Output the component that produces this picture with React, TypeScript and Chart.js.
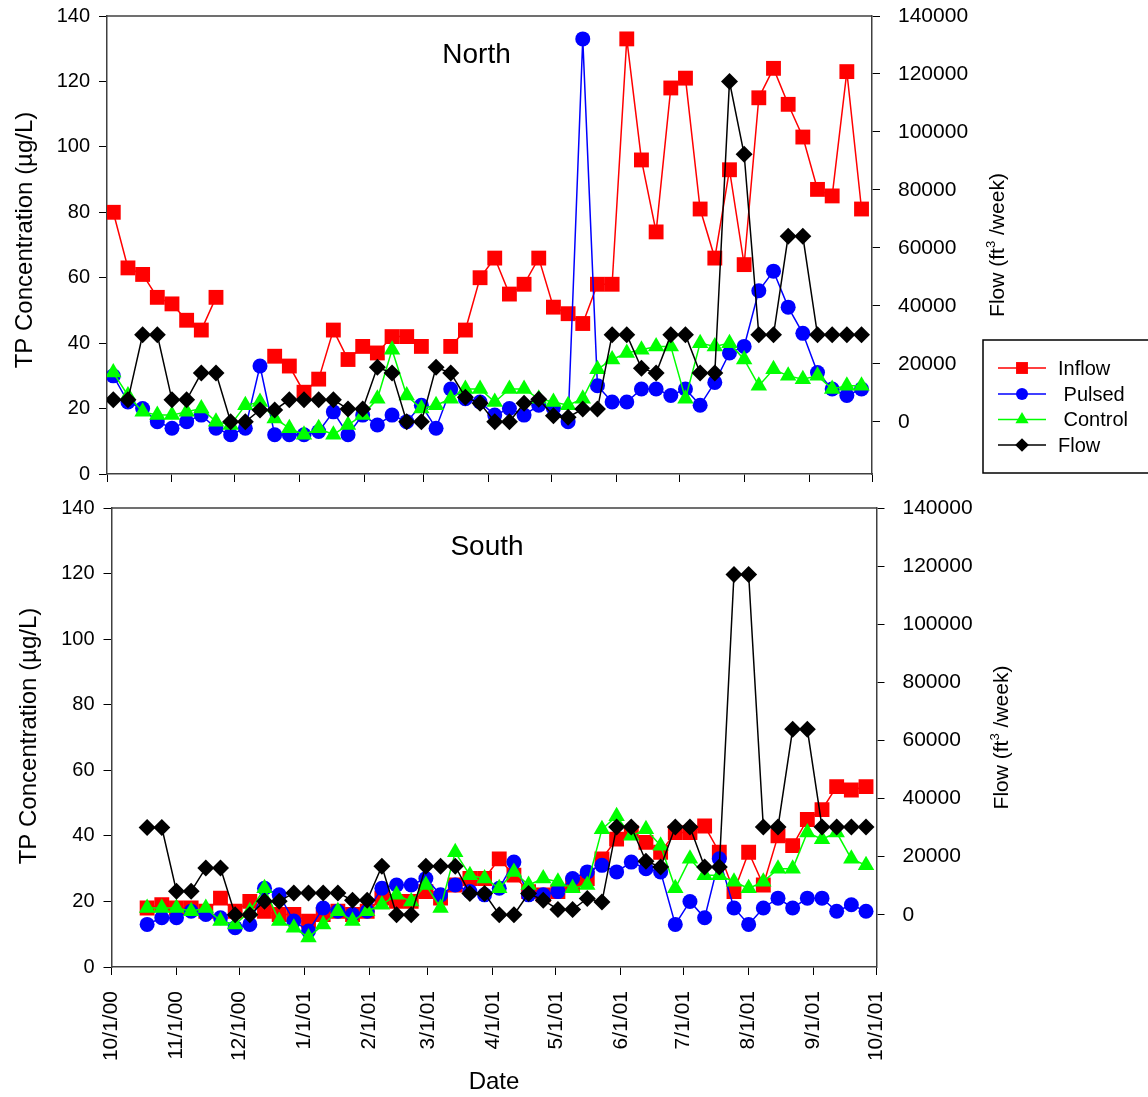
import React, { useEffect, useRef } from "react";
import { Chart, registerables } from "chart.js";

Chart.register(...registerables);

const FONT = "'Liberation Sans', Arial, Helvetica, sans-serif";
const AXIS_COLOR = "#404040";

// Weekly sampling dates
const sampleDates = [
  "10/4/00", "10/11/00", "10/18/00", "10/25/00",
  "11/1/00", "11/8/00", "11/15/00", "11/22/00", "11/29/00",
  "12/6/00", "12/13/00", "12/20/00", "12/27/00",
  "1/3/01", "1/10/01", "1/17/01", "1/24/01", "1/31/01",
  "2/7/01", "2/14/01", "2/21/01", "2/28/01",
  "3/7/01", "3/14/01", "3/21/01", "3/28/01",
  "4/4/01", "4/11/01", "4/18/01", "4/25/01",
  "5/2/01", "5/9/01", "5/16/01", "5/23/01", "5/30/01",
  "6/6/01", "6/13/01", "6/20/01", "6/27/01",
  "7/4/01", "7/11/01", "7/18/01", "7/25/01",
  "8/1/01", "8/8/01", "8/15/01", "8/22/01", "8/29/01",
  "9/5/01", "9/12/01", "9/19/01", "9/26/01",
];

const monthTickLabels = [
  "10/1/00", "11/1/00", "12/1/00", "1/1/01", "2/1/01", "3/1/01", "4/1/01",
  "5/1/01", "6/1/01", "7/1/01", "8/1/01", "9/1/01", "10/1/01",
];

const tpTicks = [0, 20, 40, 60, 80, 100, 120, 140];
const flowTicks = [0, 20000, 40000, 60000, 80000, 100000, 120000, 140000];

// North panel (TP µg/L, flow ft3/week)
const northInflow = [80, 63, 61, 54, 52, 47, 44, 54, null, null, null, 36, 33, 25, 29, 44, 35, 39, 37, 42, 42, 39, null, 39, 44, 60, 66, 55, 58, 66, 51, 49, 46, 58, 58, 133, 96, 74, 118, 121, 81, 66, 93, 64, 115, 124, 113, 103, 87, 85, 123, 81];
const northPulsed = [30, 22, 20, 16, 14, 16, 18, 14, 12, 14, 33, 12, 12, 12, 13, 19, 12, 18, 15, 18, 16, 21, 14, 26, 23, 22, 18, 20, 18, 21, 20, 16, 133, 27, 22, 22, 26, 26, 24, 26, 21, 28, 37, 39, 56, 62, 51, 43, 31, 26, 24, 26];
const northControl = [31, 24, 19, 18, 18, 19, 20, 16, 15, 21, 22, 17, 14, 12, 14, 12, 15, 18, 23, 38, 24, 20, 21, 23, 26, 26, 22, 26, 26, 23, 22, 21, 23, 32, 35, 37, 38, 39, 39, 23, 40, 39, 40, 35, 27, 32, 30, 29, 30, 26, 27, 27];
const northFlow = [7600, 7600, 30000, 30000, 7600, 7600, 16800, 16800, 0, 0, 4100, 4100, 7600, 7600, 7600, 7600, 4400, 4400, 18800, 16800, 0, 0, 18800, 16800, 8500, 6400, 0, 0, 6400, 7800, 2100, 1600, 4400, 4400, 30000, 30000, 18500, 16800, 30000, 30000, 16800, 16800, 117400, 92300, 30000, 30000, 64000, 64000, 30000, 30000, 30000, 30000];

// South panel
const southInflow = [null, null, 18, 19, 18, 18, 17, 21, 17, 20, 17, 16, 16, 14, 16, 17, 16, 17, 21, 20, 20, 23, 21, 25, 27, 27, 33, 28, 23, 22, 23, 25, 27, 33, 39, 41, 38, 35, 41, 41, 43, 35, 23, 35, 25, 40, 37, 45, 48, 55, 54, 55];
const southPulsed = [null, null, 13, 15, 15, 17, 16, 15, 12, 13, 24, 22, 14, 11, 18, 17, 16, 17, 24, 25, 25, 27, 22, 25, 23, 22, 24, 32, 22, 22, 23, 27, 29, 31, 29, 32, 30, 29, 13, 20, 15, 33, 18, 13, 18, 21, 18, 21, 21, 17, 19, 17];
const southControl = [null, null, 18, 18, 18, 17, 18, 14, 13, 17, 24, 14, 12, 9, 13, 17, 14, 17, 19, 22, 20, 25, 18, 35, 28, 27, 24, 29, 25, 27, 26, 24, 25, 42, 46, 40, 42, 37, 24, 33, 28, 28, 26, 24, 26, 30, 30, 41, 39, 41, 33, 31];
const southFlow = [null, null, 30000, 30000, 8100, 8100, 16100, 16100, 0, 0, 4600, 4600, 7500, 7500, 7500, 7500, 5000, 5000, 16700, 0, 0, 16700, 16700, 16700, 7300, 7300, 0, 0, 7300, 5000, 1800, 1800, 5600, 4400, 30200, 30200, 18400, 16400, 30200, 30200, 16400, 16400, 117100, 117100, 30200, 30200, 63800, 63800, 30200, 30200, 30200, 30200];

const seriesNames = ["Inflow", "Pulsed", "Control", "Flow"];
const legendLabels = ["Inflow", " Pulsed", " Control", "Flow"];
const seriesColors = ["#ff0000", "#0000ff", "#00ff00", "#000000"];
const seriesStyles = ["rect", "circle", "triangle", "rectRot"];
const seriesRadius = [10.5, 7.5, 9.5, 8.5];

function dayOf(s: string): number {
  const [m, d, y] = s.split("/").map(Number);
  return Math.round((Date.UTC(2000 + y, m - 1, d) - Date.UTC(2000, 9, 1)) / 86400000);
}

function drawMarker(ctx: CanvasRenderingContext2D, style: string, x: number, y: number, r: number, color: string) {
  ctx.fillStyle = color;
  ctx.beginPath();
  if (style === "rect") {
    const s = Math.SQRT1_2 * r;
    ctx.rect(x - s, y - s, 2 * s, 2 * s);
  } else if (style === "circle") {
    ctx.arc(x, y, r, 0, Math.PI * 2);
  } else if (style === "triangle") {
    let a = 0;
    ctx.moveTo(x + Math.sin(a) * r, y - Math.cos(a) * r);
    a += (2 * Math.PI) / 3;
    ctx.lineTo(x + Math.sin(a) * r, y - Math.cos(a) * r);
    a += (2 * Math.PI) / 3;
    ctx.lineTo(x + Math.sin(a) * r, y - Math.cos(a) * r);
    ctx.closePath();
  } else {
    ctx.moveTo(x, y - r);
    ctx.lineTo(x + r, y);
    ctx.lineTo(x, y + r);
    ctx.lineTo(x - r, y);
    ctx.closePath();
  }
  ctx.fill();
}

interface PanelSpec {
  name: string;
  values: (number | null)[][];
  height: number;
  leftW: number;
  rightW: number;
  topPad: number;
  xHeight: number;
  showXLabels: boolean;
  titleX: number;
  titleY: number;
  leftTitleX: number;
  leftTitleY: number;
  rightTitleX: number;
  legend: boolean;
  dateTitle: boolean;
}

function buildChart(canvas: HTMLCanvasElement, p: PanelSpec) {
  const datasets = seriesNames.map((name, si) => ({
    label: name,
    data: sampleDates.map((d, i) => ({ x: dayOf(d), y: p.values[si][i] })),
    borderColor: seriesColors[si],
    backgroundColor: seriesColors[si],
    pointBackgroundColor: seriesColors[si],
    pointBorderColor: seriesColors[si],
    pointStyle: seriesStyles[si],
    pointRadius: seriesRadius[si],
    pointBorderWidth: 0,
    borderWidth: 1.5,
    yAxisID: si === 3 ? "y1" : "y",
    order: 3 - si,
    spanGaps: false,
    tension: 0,
  }));

  const deco = {
    id: "deco",
    afterDraw(chart: any) {
      const ctx: CanvasRenderingContext2D = chart.ctx;
      const a = chart.chartArea;
      ctx.save();
      // top frame
      ctx.strokeStyle = AXIS_COLOR;
      ctx.lineWidth = 1.5;
      ctx.beginPath();
      ctx.moveTo(a.left, a.top);
      ctx.lineTo(a.right, a.top);
      ctx.stroke();

      ctx.fillStyle = "#000";
      // panel title
      ctx.font = `28px ${FONT}`;
      ctx.textAlign = "center";
      ctx.textBaseline = "alphabetic";
      ctx.fillText(p.name, p.titleX, p.titleY);

      const midY = (a.top + a.bottom) / 2;
      // left title
      ctx.save();
      ctx.translate(p.leftTitleX, p.leftTitleY);
      ctx.rotate(-Math.PI / 2);
      ctx.font = `24px ${FONT}`;
      ctx.textAlign = "center";
      ctx.textBaseline = "middle";
      ctx.fillText("TP Concentration (µg/L)", 0, 0);
      ctx.restore();

      // right title with superscript
      ctx.save();
      ctx.translate(p.rightTitleX, midY);
      ctx.rotate(-Math.PI / 2);
      ctx.textBaseline = "middle";
      ctx.textAlign = "left";
      const parts = ["Flow (ft", "3", " /week)"];
      ctx.font = `21px ${FONT}`;
      const w0 = ctx.measureText(parts[0]).width;
      const w2 = ctx.measureText(parts[2]).width;
      ctx.font = `13px ${FONT}`;
      const w1 = ctx.measureText(parts[1]).width;
      let x = -(w0 + w1 + w2) / 2;
      ctx.font = `21px ${FONT}`;
      ctx.fillText(parts[0], x, 0);
      x += w0;
      ctx.font = `13px ${FONT}`;
      ctx.fillText(parts[1], x, -7);
      x += w1;
      ctx.font = `21px ${FONT}`;
      ctx.fillText(parts[2], x, 0);
      ctx.restore();

      if (p.dateTitle) {
        ctx.font = `24px ${FONT}`;
        ctx.textAlign = "center";
        ctx.textBaseline = "middle";
        ctx.fillText("Date", (a.left + a.right) / 2, 592);
      }

      if (p.legend) {
        ctx.strokeStyle = "#000";
        ctx.lineWidth = 1.5;
        ctx.strokeRect(983, 340, 220, 133);
        const ys = [368, 394, 419.5, 445];
        legendLabels.forEach((lab, i) => {
          const y = ys[i];
          ctx.strokeStyle = seriesColors[i];
          ctx.lineWidth = 1.5;
          ctx.beginPath();
          ctx.moveTo(998, y);
          ctx.lineTo(1046, y);
          ctx.stroke();
          drawMarker(ctx, seriesStyles[i], 1022, y, seriesRadius[i] * 0.8, seriesColors[i]);
          ctx.fillStyle = "#000";
          ctx.font = `20px ${FONT}`;
          ctx.textAlign = "left";
          ctx.textBaseline = "middle";
          ctx.fillText(lab, 1058, y + 1);
        });
      }
      ctx.restore();
    },
  };

  return new Chart(canvas, {
    type: "line",
    data: { datasets: datasets as any },
    plugins: [deco],
    options: {
      responsive: false,
      animation: false,
      layout: { padding: { top: p.topPad, left: 0, right: 0, bottom: 0 } },
      plugins: { legend: { display: false }, tooltip: { enabled: false }, title: { display: false } },
      scales: {
        x: {
          type: "linear",
          min: dayOf(monthTickLabels[0]),
          max: dayOf(monthTickLabels[monthTickLabels.length - 1]),
          afterBuildTicks: (s: any) => {
            s.ticks = monthTickLabels.map((l) => ({ value: dayOf(l) }));
          },
          afterFit: (s: any) => {
            s.height = p.xHeight;
            s.paddingLeft = 0;
            s.paddingRight = 0;
          },
          ticks: {
            display: p.showXLabels,
            autoSkip: false,
            minRotation: 90,
            maxRotation: 90,
            padding: 16,
            color: "#000",
            font: { family: FONT, size: 21 },
            callback: (_v: any, i: number) => monthTickLabels[i],
          },
          grid: { drawOnChartArea: false, drawTicks: true, tickLength: 8, color: "#000", lineWidth: 1 },
          border: { display: true, color: AXIS_COLOR, width: 1.5 },
        },
        y: {
          type: "linear",
          position: "left",
          min: tpTicks[0],
          max: tpTicks[tpTicks.length - 1],
          afterBuildTicks: (s: any) => {
            s.ticks = tpTicks.map((v) => ({ value: v }));
          },
          afterFit: (s: any) => {
            s.width = p.leftW;
            s.paddingTop = 0;
            s.paddingBottom = 0;
          },
          ticks: { color: "#000", font: { family: FONT, size: 20 }, padding: 9, callback: (v: any) => String(v) },
          grid: { drawOnChartArea: false, drawTicks: true, tickLength: 8, color: "#000", lineWidth: 1 },
          border: { display: true, color: AXIS_COLOR, width: 1.5 },
        },
        y1: {
          type: "linear",
          position: "right",
          min: -18000,
          max: flowTicks[flowTicks.length - 1],
          afterBuildTicks: (s: any) => {
            s.ticks = flowTicks.map((v) => ({ value: v }));
          },
          afterFit: (s: any) => {
            s.width = p.rightW;
            s.paddingTop = 0;
            s.paddingBottom = 0;
          },
          ticks: { color: "#000", font: { family: FONT, size: 21 }, padding: 18, callback: (v: any) => String(v) },
          grid: { drawOnChartArea: false, drawTicks: true, tickLength: 8, color: "#000", lineWidth: 1 },
          border: { display: true, color: AXIS_COLOR, width: 1.5 },
        },
      },
    } as any,
  });
}

const northSpec: PanelSpec = {
  name: "North",
  values: [northInflow, northPulsed, northControl, northFlow],
  height: 490,
  leftW: 107,
  rightW: 276,
  topPad: 16,
  xHeight: 16,
  showXLabels: false,
  titleX: 476.5,
  titleY: 63,
  leftTitleX: 25,
  leftTitleY: 240,
  rightTitleX: 998,
  legend: true,
  dateTitle: false,
};

const southSpec: PanelSpec = {
  name: "South",
  values: [southInflow, southPulsed, southControl, southFlow],
  height: 607,
  leftW: 111.5,
  rightW: 271.5,
  topPad: 18,
  xHeight: 130,
  showXLabels: true,
  titleX: 487,
  titleY: 65,
  leftTitleX: 29,
  leftTitleY: 246,
  rightTitleX: 1002,
  legend: false,
  dateTitle: true,
};

export default function App() {
  const topRef = useRef<HTMLCanvasElement>(null);
  const botRef = useRef<HTMLCanvasElement>(null);

  useEffect(() => {
    const c1 = buildChart(topRef.current!, northSpec);
    const c2 = buildChart(botRef.current!, southSpec);
    return () => {
      c1.destroy();
      c2.destroy();
    };
  }, []);

  return (
    <div style={{ position: "absolute", left: 0, top: 0, width: 1148, height: 1097, background: "#fff", overflow: "hidden" }}>
      <canvas ref={topRef} width={1148} height={northSpec.height} style={{ position: "absolute", left: 0, top: 0, width: 1148, height: northSpec.height }} />
      <canvas ref={botRef} width={1148} height={southSpec.height} style={{ position: "absolute", left: 0, top: northSpec.height, width: 1148, height: southSpec.height }} />
    </div>
  );
}
